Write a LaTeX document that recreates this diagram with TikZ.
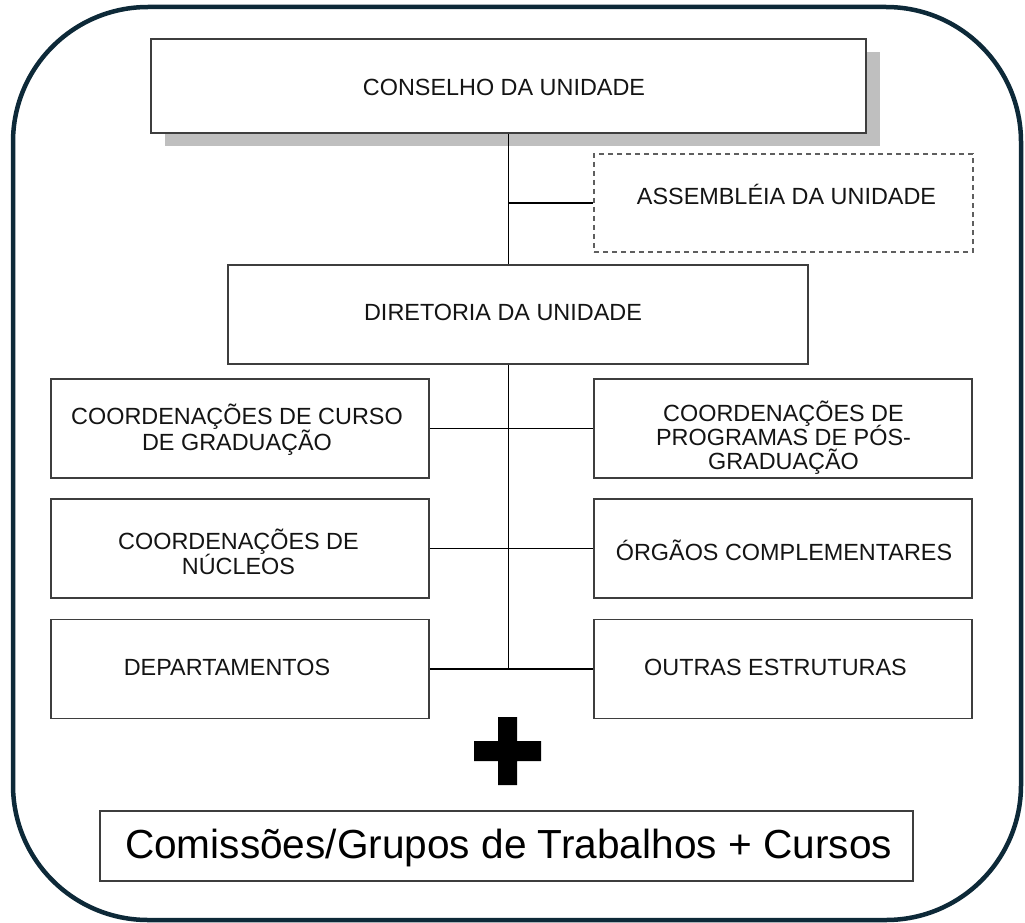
\documentclass[tikz,border=0pt]{standalone}
\usepackage{fontspec}
\usepackage{graphicx}
\newfontfamily\arialf{Liberation Sans}
\newfontfamily\aptosf{Liberation Sans}
\definecolor{frame}{RGB}{13,41,56}
\definecolor{boxline}{RGB}{62,62,62}
\definecolor{dashline}{RGB}{95,95,95}
\definecolor{shadowgray}{RGB}{191,191,191}
\definecolor{txt}{RGB}{20,20,20}
\newcommand\stackc[2][25pt]{\vtop{\baselineskip=#1\relax\lineskiplimit=-100pt\lineskip=0pt\halign{\hfil##\hfil\cr#2\crcr}}}
\begin{document}
\begin{tikzpicture}[x=1pt,y=-1pt,
  box/.style={draw=boxline, line width=1.8pt, fill=white, inner sep=0pt},
  colbox/.style={box, minimum width=378pt, minimum height=99pt},
  lbl/.style={font=\arialf\fontsize{23.4}{25}\selectfont, text=txt, inner sep=0pt, anchor=base},
  conn/.style={draw=black, line width=1.6pt},
]
\useasboundingbox (0,0) rectangle (1025,923);
\draw[frame, line width=4.5pt, rounded corners=135pt] (13,7) rectangle (1021,920);

% top box with shadow
\fill[shadowgray] (165,52) rectangle (880,146);
\node[box, minimum width=715pt, minimum height=94pt] (cons) at (508.5,86) {};
\node[box, draw=dashline, line width=2pt, dash pattern=on 5pt off 4pt, minimum width=379pt, minimum height=98pt] (asm) at (783.5,203) {};
\node[box, minimum width=580pt, minimum height=99pt] (dir) at (518,314.5) {};

\node[colbox] (r1l) at (240,428.5) {};
\node[colbox] (r1r) at (783,428.5) {};
\node[colbox] (r2l) at (240,548.5) {};
\node[colbox] (r2r) at (783,548.5) {};
\node[colbox] (r3l) at (240,669) {};
\node[colbox] (r3r) at (783,669) {};

% connectors
\draw[conn] (cons.south) -- (cons.south |- dir.north);
\draw[conn] (cons.south |- asm.west) -- (asm.west);
\draw[conn] (cons.south |- dir.south) -- (cons.south |- r3l.east);
\draw[conn] (r1l.east) -- (r1r.west);
\draw[conn] (r2l.east) -- (r2r.west);
\draw[conn] (r3l.east) -- (r3r.west);

% labels
\node[lbl] (tcons) at (504,96) {CONSELHO DA UNIDADE};
\node[lbl] (tasm) at (786.5,204) {ASSEMBLÉIA DA UNIDADE};
\node[lbl] (tdir) at (503,320) {DIRETORIA DA UNIDADE};
\node[lbl] (tr1l) at (237,424) {\stackc[26pt]{COORDENAÇÕES DE CURSO\cr DE GRADUAÇÃO}};
\node[lbl] (tr1r) at (783.5,421) {\stackc[24pt]{COORDENAÇÕES DE\cr PROGRAMAS DE PÓS-\cr GRADUAÇÃO}};
\node[lbl] (tr2l) at (238.5,549) {\stackc[25pt]{COORDENAÇÕES DE\cr NÚCLEOS}};
\node[lbl] (tr2r) at (784,560) {ÓRGÃOS COMPLEMENTARES};
\node[lbl] (tr3l) at (227,675) {DEPARTAMENTOS};
\node[lbl] (tr3r) at (775.5,675) {OUTRAS ESTRUTURAS};

% plus sign
\fill[black] (498,717) -- (517,717) -- (517,741) -- (541,741) -- (541,761) -- (517,761) -- (517,785) -- (498,785) -- (498,761) -- (474,761) -- (474,741) -- (498,741) -- cycle;

% bottom box
\node[box, line width=1.5pt, minimum width=813pt, minimum height=70pt] (com) at (506.5,846) {};
\node[anchor=base, inner sep=0pt] (tcom) at (508.5,858) {\resizebox{767pt}{!}{\aptosf\fontsize{40}{44}\selectfont Comissões/Grupos de Trabalhos + Cursos}};
\end{tikzpicture}
\end{document}
